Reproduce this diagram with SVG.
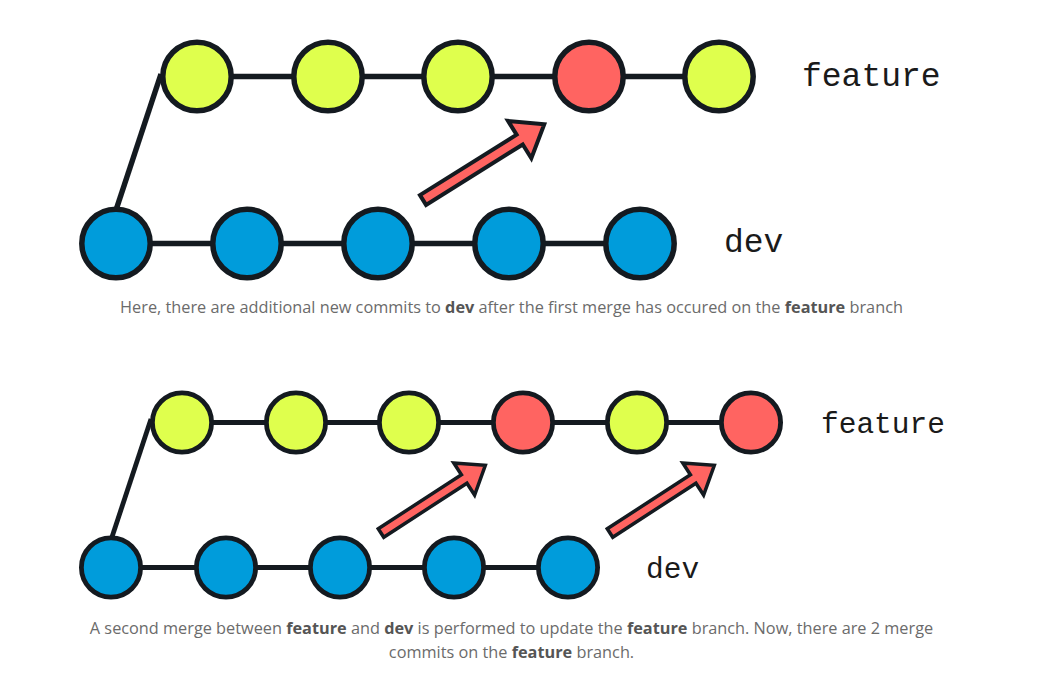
<svg xmlns="http://www.w3.org/2000/svg" xmlns:xlink="http://www.w3.org/1999/xlink" width="1052" height="689" viewBox="0 0 1052 689">
  <style>
    .edge { stroke: #141a20; stroke-width: 5.5; fill: none; }
    .edge2 { stroke: #141a20; stroke-width: 4.8; fill: none; }
    .c1 { stroke: #141a20; stroke-width: 5.5; }
    .c2 { stroke: #141a20; stroke-width: 4.8; }
    .feat { fill: #dfff4d; }
    .dev { fill: #009cdb; }
    .merge { fill: #ff6461; }
    .lbl { font-family: "Liberation Mono", "Courier New", monospace; fill: #1a1a1a; }
    .cap { font-family: "Open Sans", "Liberation Sans", Arial, sans-serif; font-size: 16.3px; fill: #6b6b6b; text-anchor: middle; }
    .cap tspan.b { font-weight: bold; fill: #555555; }
  </style>
  <defs>
    <polygon id="mergeArrow" points="0,-5.8 114,-5.8 114,-22 143,0 114,22 114,5.8 0,5.8" fill="#ff6461" stroke="#141a20" stroke-width="4" stroke-linejoin="miter"/>
  </defs>
  <rect width="1052" height="689" fill="#ffffff"/>

  <g id="connectors">
    <line class="edge" x1="197" y1="76.5" x2="719" y2="76.5"/>
    <line class="edge" x1="116" y1="210" x2="161" y2="74"/>
    <line class="edge" x1="116" y1="243.5" x2="640" y2="243.5"/>
    <use xlink:href="#mergeArrow" transform="translate(423,200) rotate(-32)"/>
    <line class="edge2" x1="182" y1="422.5" x2="751" y2="422.5"/>
    <line class="edge2" x1="111" y1="540" x2="151" y2="419"/>
    <line class="edge2" x1="111" y1="567.5" x2="568" y2="567.5"/>
    <use xlink:href="#mergeArrow" transform="translate(381,533) rotate(-33) scale(0.87)"/>
    <use xlink:href="#mergeArrow" transform="translate(610,533) rotate(-33) scale(0.87)"/>
  </g>

  <g id="top-feature-1"><circle class="c1 feat" cx="197" cy="76.5" r="34.2"/></g>
  <g id="top-feature-2"><circle class="c1 feat" cx="328" cy="76.5" r="34.2"/></g>
  <g id="top-feature-3"><circle class="c1 feat" cx="458" cy="76.5" r="34.2"/></g>
  <g id="top-feature-4"><circle class="c1 merge" cx="589" cy="76.5" r="34.2"/></g>
  <g id="top-feature-5"><circle class="c1 feat" cx="719" cy="76.5" r="34.2"/></g>
  <g id="top-feature-label"><text class="lbl" x="802" y="86" font-size="33">feature</text></g>

  <g id="top-dev-1"><circle class="c1 dev" cx="116" cy="243.5" r="34.2"/></g>
  <g id="top-dev-2"><circle class="c1 dev" cx="247" cy="243.5" r="34.2"/></g>
  <g id="top-dev-3"><circle class="c1 dev" cx="378" cy="243.5" r="34.2"/></g>
  <g id="top-dev-4"><circle class="c1 dev" cx="509" cy="243.5" r="34.2"/></g>
  <g id="top-dev-5"><circle class="c1 dev" cx="640" cy="243.5" r="34.2"/></g>
  <g id="top-dev-label"><text class="lbl" x="724" y="252" font-size="33">dev</text></g>

  <g id="caption-1">
    <text class="cap" x="511.5" y="313">Here, there are additional new commits to <tspan class="b">dev</tspan> after the first merge has occured on the <tspan class="b">feature</tspan> branch</text>
  </g>

  <g id="bottom-feature-1"><circle class="c2 feat" cx="182" cy="422.5" r="29.6"/></g>
  <g id="bottom-feature-2"><circle class="c2 feat" cx="296" cy="422.5" r="29.6"/></g>
  <g id="bottom-feature-3"><circle class="c2 feat" cx="409" cy="422.5" r="29.6"/></g>
  <g id="bottom-feature-4"><circle class="c2 merge" cx="523" cy="422.5" r="29.6"/></g>
  <g id="bottom-feature-5"><circle class="c2 feat" cx="637" cy="422.5" r="29.6"/></g>
  <g id="bottom-feature-6"><circle class="c2 merge" cx="751" cy="422.5" r="29.6"/></g>
  <g id="bottom-feature-label"><text class="lbl" x="821" y="433" font-size="29.5">feature</text></g>

  <g id="bottom-dev-1"><circle class="c2 dev" cx="111" cy="567.5" r="29.6"/></g>
  <g id="bottom-dev-2"><circle class="c2 dev" cx="226" cy="567.5" r="29.6"/></g>
  <g id="bottom-dev-3"><circle class="c2 dev" cx="340" cy="567.5" r="29.6"/></g>
  <g id="bottom-dev-4"><circle class="c2 dev" cx="454" cy="567.5" r="29.6"/></g>
  <g id="bottom-dev-5"><circle class="c2 dev" cx="568" cy="567.5" r="29.6"/></g>
  <g id="bottom-dev-label"><text class="lbl" x="646" y="578" font-size="29.5">dev</text></g>

  <g id="caption-2">
    <text class="cap" x="511.5" y="634">A second merge between <tspan class="b">feature</tspan> and <tspan class="b">dev</tspan> is performed to update the <tspan class="b">feature</tspan> branch. Now, there are 2 merge</text>
    <text class="cap" x="511.5" y="658">commits on the <tspan class="b">feature</tspan> branch.</text>
  </g>
</svg>
